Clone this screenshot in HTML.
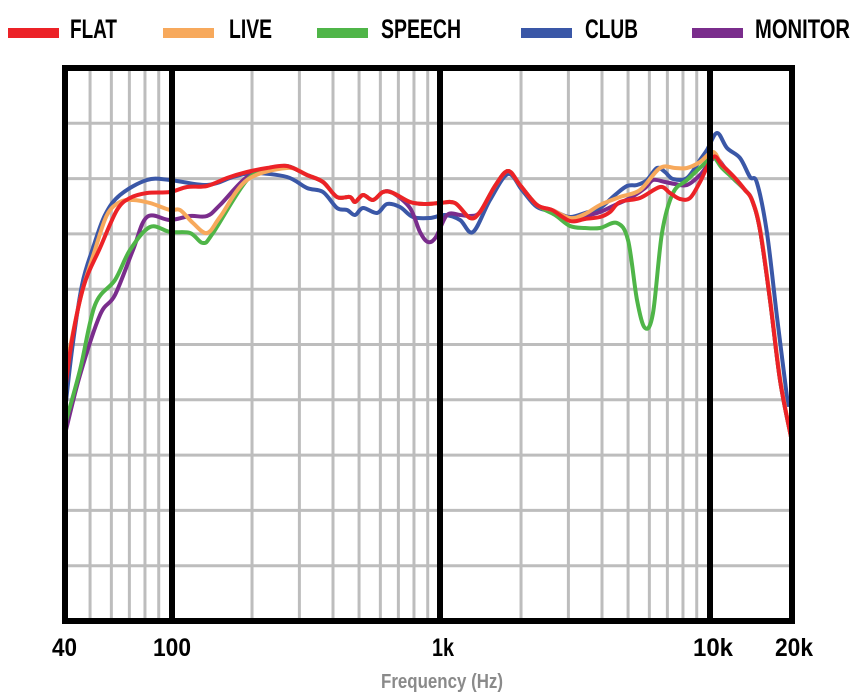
<!DOCTYPE html>
<html><head><meta charset="utf-8"><style>
html,body{margin:0;padding:0;background:#fff;}
svg{display:block;}
text{font-family:"Liberation Sans Narrow","Liberation Sans",sans-serif;font-weight:bold;}
</style></head><body>
<svg id="s" width="854" height="697" viewBox="0 0 854 697" xmlns="http://www.w3.org/2000/svg">
<g id="grid" stroke="#bdbdbd" stroke-width="3"></g>
<g id="curves" fill="none" stroke-width="4" stroke-linejoin="round" stroke-linecap="round"></g>
<rect x="65" y="68" width="727" height="553" fill="none" stroke="#000" stroke-width="6"/>
<line x1="172" y1="68" x2="172" y2="621" stroke="#000" stroke-width="6"/>
<line x1="440" y1="68" x2="440" y2="621" stroke="#000" stroke-width="6"/>
<line x1="710" y1="68" x2="710" y2="621" stroke="#000" stroke-width="6"/>
<g font-size="25" fill="#000" lengthAdjust="spacingAndGlyphs">
<text x="52" y="656" textLength="25" lengthAdjust="spacingAndGlyphs">40</text>
<text x="153" y="656" textLength="38" lengthAdjust="spacingAndGlyphs">100</text>
<text x="432" y="656" textLength="22" lengthAdjust="spacingAndGlyphs">1k</text>
<text x="693" y="656" textLength="40" lengthAdjust="spacingAndGlyphs">10k</text>
<text x="775" y="656" textLength="38" lengthAdjust="spacingAndGlyphs">20k</text>
</g>
<text x="381" y="688" font-size="20" fill="#8a8a8a" textLength="122" lengthAdjust="spacingAndGlyphs">Frequency (Hz)</text>
<g font-size="27">
<rect x="8" y="28" width="51" height="10" fill="#ec2227"/><text x="70" y="38" textLength="47" lengthAdjust="spacingAndGlyphs">FLAT</text>
<rect x="163" y="28" width="51" height="10" fill="#f7a95c"/><text x="229" y="38" textLength="43" lengthAdjust="spacingAndGlyphs">LIVE</text>
<rect x="317" y="28" width="51" height="10" fill="#4fb548"/><text x="381" y="38" textLength="80" lengthAdjust="spacingAndGlyphs">SPEECH</text>
<rect x="521" y="28" width="51" height="10" fill="#3a57a7"/><text x="585" y="38" textLength="53" lengthAdjust="spacingAndGlyphs">CLUB</text>
<rect x="692" y="28" width="51" height="10" fill="#7a2d8c"/><text x="755" y="38" textLength="95" lengthAdjust="spacingAndGlyphs">MONITOR</text>
</g>
</svg>
<script>
var NS="http://www.w3.org/2000/svg";
function X(f){return 64+Math.log10(f/40)*269;}
var g=document.getElementById('grid');
function ln(x1,y1,x2,y2){var l=document.createElementNS(NS,'line');l.setAttribute('x1',x1);l.setAttribute('y1',y1);l.setAttribute('x2',x2);l.setAttribute('y2',y2);g.appendChild(l);}
[50,60,70,80,90,200,300,400,500,600,700,800,900,2000,3000,4000,5000,6000,7000,8000,9000].forEach(function(f){ln(X(f),68,X(f),621);});
for(var i=1;i<10;i++){var y=68+i*55.3;ln(65,y,792,y);}
function path(p){var d="M"+p[0][0]+","+p[0][1];for(var i=0;i<p.length-1;i++){var p0=p[i-1]||p[i],p1=p[i],p2=p[i+1],p3=p[i+2]||p2;
d+=" C"+(p1[0]+(p2[0]-p0[0])/6)+","+(p1[1]+(p2[1]-p0[1])/6)+" "+(p2[0]-(p3[0]-p1[0])/6)+","+(p2[1]-(p3[1]-p1[1])/6)+" "+p2[0]+","+p2[1];}return d;}
var mid=[[287,166],[307,175],[323,182],[337,197],[350,197],[355,202],[363,195],[373,200],[383,192],[393,193],[410,202],[425,204],[440,203],[455,203],[470,218],[480,212],[495,186],[508,171],[520,185],[537,205],[552,210],[570,218]];
var C={
blue:{c:"#3a57a7",p:[[64,420],[72,350],[82,285],[93,248],[105,215],[120,195],[147,180],[170,180],[207,185],[233,177],[253,173],[287,177],[307,188],[323,192],[337,208],[347,210],[355,215],[363,208],[377,213],[387,204],[400,207],[413,217],[430,218],[445,215],[460,220],[473,232],[490,200],[508,174],[522,190],[537,207],[555,212],[570,217],[585,213],[600,208],[615,195],[627,186],[637,185],[647,180],[657,168],[665,172],[673,179],[687,178],[700,160],[707,150],[717,133],[727,148],[740,158],[750,177],[757,183],[767,233],[777,317],[788,405]]},
purple:{c:"#7a2d8c",p:[[66,430],[80,375],[100,315],[115,295],[133,250],[147,217],[170,220],[190,216],[207,216],[220,205],[247,177],[270,170]].concat(mid.slice(0,10)).concat([[410,208],[420,232],[428,242],[436,237],[447,215],[460,215],[470,216],[480,212],[495,186],[508,171],[520,185],[537,205],[552,210],[570,218],[585,216],[600,212],[615,205],[630,198],[645,188],[653,180],[665,182],[675,184],[687,185],[700,175],[710,162],[717,158],[730,175],[745,190],[752,200],[760,230],[770,300],[780,380],[791,437]])},
green:{c:"#4fb548",p:[[64,428],[80,370],[95,305],[115,280],[130,250],[150,227],[170,232],[190,233],[203,243],[213,233],[247,180],[270,170]].concat(mid.slice(0,20)).concat([[555,215],[570,226],[585,228],[600,228],[617,223],[628,240],[637,300],[645,328],[653,313],[662,233],[673,193],[687,180],[703,165],[713,157],[722,168],[735,180],[745,190],[752,200],[760,230],[770,300],[780,380],[791,437]])},
orange:{c:"#f7a95c",p:[[64,378],[80,300],[95,250],[107,215],[120,202],[133,200],[150,203],[170,210],[180,210],[193,223],[207,233],[220,217],[247,180],[287,168]].concat(mid.slice(1)).concat([[585,214],[600,205],[620,197],[640,190],[660,168],[675,168],[687,168],[700,162],[713,152],[722,165],[735,178],[745,190],[752,200],[760,228],[770,298],[780,378],[791,437]])},
red:{c:"#ec2227",p:[[64,400],[72,340],[84,285],[100,248],[117,210],[130,198],[147,193],[170,192],[187,187],[207,186],[227,178],[247,172],[267,168]].concat(mid.slice(0,21)).concat([[570,221],[585,219],[600,217],[610,212],[620,202],[640,198],[660,187],[670,193],[680,199],[690,198],[700,182],[713,157],[722,165],[735,178],[745,190],[752,200],[760,230],[770,300],[780,380],[791,437]])}
};
var cg=document.getElementById('curves');
["blue","purple","green","orange","red"].forEach(function(k){var e=document.createElementNS(NS,'path');e.setAttribute('d',path(C[k].p));e.setAttribute('stroke',C[k].c);cg.appendChild(e);});
</script>
</body></html>
